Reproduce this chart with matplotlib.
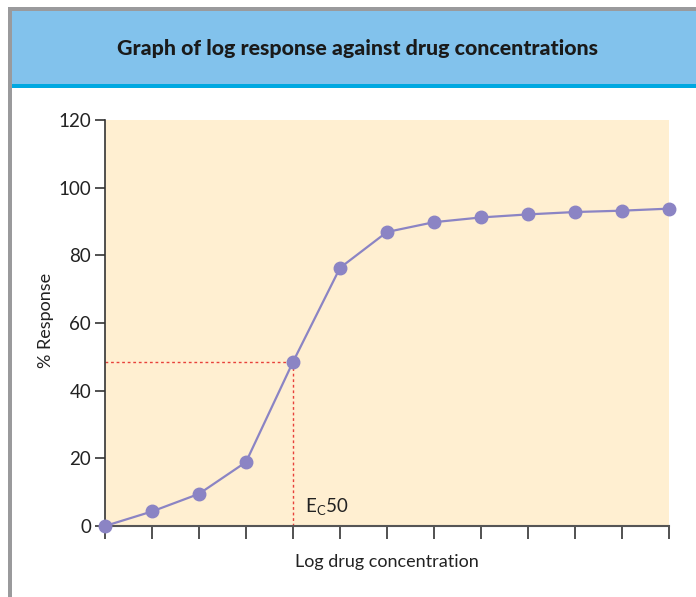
import matplotlib
matplotlib.use("Agg")
import matplotlib.pyplot as plt
from matplotlib.patches import Rectangle

# Data
log_conc = list(range(13))
response = [0.0, 4.3, 9.5, 18.9, 48.5, 76.3, 86.9, 89.8, 91.2, 92.1, 92.8, 93.2, 93.8]
ec50_index = 4
ec50_value = 48.5
y_ticks = [0, 20, 40, 60, 80, 100, 120]
title = "Graph of log response against drug concentrations"
xlabel = "Log drug concentration"
ylabel = "% Response"

plt.rcParams['font.family'] = ['Lato', 'DejaVu Sans']

W, H = 696, 597
fig = plt.figure(figsize=(W / 100, H / 100), dpi=100)
fig.patch.set_facecolor("white")

def fx(px):
    return px / W

def fy(py):
    return 1 - py / H

# Frame / header
fig.patches.append(Rectangle((fx(8), 0), fx(4), fy(7), transform=fig.transFigure,
                             facecolor="#9a9a9c", edgecolor="none", zorder=0))
fig.patches.append(Rectangle((fx(8), fy(11)), 1, fy(7) - fy(11), transform=fig.transFigure,
                             facecolor="#9a9a9c", edgecolor="none", zorder=0))
fig.patches.append(Rectangle((fx(12), fy(84)), 1, fy(11) - fy(84), transform=fig.transFigure,
                             facecolor="#82c2ec", edgecolor="none", zorder=1))
fig.patches.append(Rectangle((fx(12), fy(88)), 1, fy(84) - fy(88), transform=fig.transFigure,
                             facecolor="#00a8e1", edgecolor="none", zorder=1))
fig.text(fx(357), fy(48), title, ha="center", va="center", fontsize=15.4,
         fontweight="black", color="#1a1a1a")

ax = fig.add_axes([fx(105), fy(526), fx(669) - fx(105), fy(120) - fy(526)])
ax.set_facecolor("#ffefd1")
ax.set_xlim(0, 12)
ax.set_ylim(0, 120)
for s in ["top", "right"]:
    ax.spines[s].set_visible(False)
ax.spines["left"].set_color("#333333")
ax.spines["bottom"].set_color("#555555")
ax.spines["left"].set_linewidth(1.2)
ax.spines["bottom"].set_linewidth(1.5)

ax.set_yticks(y_ticks)
ax.set_xticks(log_conc)
ax.set_xticklabels([])
ax.tick_params(axis="y", direction="out", length=7, width=1.2, color="#333333",
               labelsize=13.5, labelcolor="#222222", pad=3)
ax.tick_params(axis="x", direction="out", length=9, width=1.2, color="#333333")

# EC50 guide lines
ax.plot([0, ec50_index], [ec50_value, ec50_value], color="#e8413a", lw=1.0,
        linestyle=(0, (2, 2)), zorder=2)
ax.plot([ec50_index, ec50_index], [0, ec50_value], color="#e8413a", lw=1.0,
        linestyle=(0, (2, 2)), zorder=2)

ax.plot(log_conc, response, color="#8b84c4", lw=1.6, marker="o", markersize=9,
        markerfacecolor="#8b84c4", markeredgecolor="#8b84c4", clip_on=False, zorder=3)

ax.text(ec50_index + 0.25, 5.5, r"E$_\mathregular{C}$50", fontsize=13.5, color="#222222",
        ha="left", va="center")

fig.text(fx(387), fy(562), xlabel, ha="center", va="center", fontsize=13, color="#222222")
fig.text(fx(46), fy(320), ylabel, ha="center", va="center", fontsize=13, color="#222222",
         rotation=90)

fig.savefig("out.png", dpi=100)
